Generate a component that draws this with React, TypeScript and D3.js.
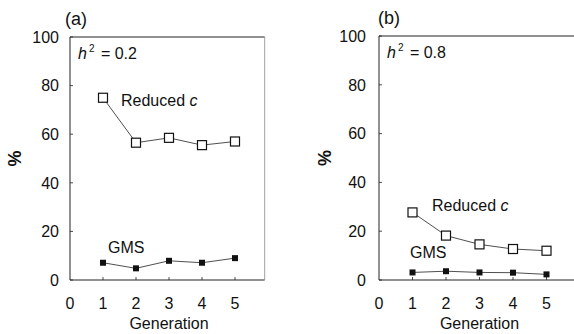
import React from "react";
import * as d3 from "d3";

const generations = [1, 2, 3, 4, 5];
const xTicks = [0, 1, 2, 3, 4, 5];
const yTicks = [0, 20, 40, 60, 80, 100];
const reducedA = [75, 56.5, 58.5, 55.5, 57];
const gmsA = [7.1, 4.8, 7.9, 7.1, 9.0];
const reducedB = [27.7, 18.2, 14.6, 12.7, 12.0];
const gmsB = [3.1, 3.6, 3.1, 3.0, 2.3];

const FONT = "'Liberation Sans', Arial, Helvetica, sans-serif";

type PanelProps = {
  x0: number;
  x6: number;
  yTop: number;
  yBot: number;
  label: string;
  labelOff: number;
  h2: string;
  reduced: number[];
  gms: number[];
  yLabelOff: number;
  pctX: number;
  rightBorder: boolean;
  redLabel: [number, number];
  gmsLabel: [number, number];
};

function Panel(p: PanelProps) {
  const x = d3.scaleLinear().domain([0, 6]).range([p.x0, p.x6]);
  const y = d3.scaleLinear().domain([0, 100]).range([p.yBot, p.yTop]);
  const line = d3
    .line<number>()
    .x((_, i) => x(generations[i]))
    .y((d) => y(d));
  const right = Math.min(x(5.9), 574);
  return (
    <g fontFamily={FONT} fill="#111">
      {/* frame */}
      <line x1={x(0)} x2={x(0)} y1={y(100)} y2={y(0)} stroke="#222" strokeWidth={1} />
      <line x1={x(0)} x2={right} y1={y(0)} y2={y(0)} stroke="#222" strokeWidth={1} />
      <line x1={x(0)} x2={right} y1={y(100)} y2={y(100)} stroke="#222" strokeWidth={1} />
      {p.rightBorder && (
        <line x1={right} x2={right} y1={y(100)} y2={y(0)} stroke="#888" strokeWidth={0.8} />
      )}
      {yTicks.map((t) => (
        <g key={t}>
          <line x1={x(0)} x2={x(0) + 3} y1={y(t)} y2={y(t)} stroke="#222" strokeWidth={0.8} />
          <text x={x(0) - p.yLabelOff} y={y(t)} dy="0.36em" textAnchor="end" fontSize={16}>
            {t}
          </text>
        </g>
      ))}
      {xTicks.map((t) => (
        <g key={t}>
          {t > 0 && (
            <line x1={x(t)} x2={x(t)} y1={y(0)} y2={y(0) - 3} stroke="#222" strokeWidth={0.8} />
          )}
          <text x={x(t)} y={y(0) + 29} textAnchor="middle" fontSize={16}>
            {t}
          </text>
        </g>
      ))}
      <text x={(x(0) + x(6)) / 2} y={y(0) + 49} textAnchor="middle" fontSize={16}>
        Generation
      </text>
      <text
        transform={`translate(${p.pctX},${(y(0) + y(100)) / 2}) rotate(-90)`}
        textAnchor="middle"
        dy="0.35em"
        fontSize={18}
        fontWeight="bold"
      >
        %
      </text>
      <text x={x(0) + p.labelOff} y={y(100) - 12} fontSize={18}>
        {p.label}
      </text>
      <text x={x(0) + 8} y={y(100) + 22} fontSize={16}>
        <tspan fontStyle="italic">h</tspan>
        <tspan fontSize={10} dx={2} dy={-7}>2</tspan>
        <tspan dx={2} dy={7}> = {p.h2}</tspan>
      </text>
      <path d={line(p.reduced) || ""} fill="none" stroke="#222" strokeWidth={0.8} />
      <path d={line(p.gms) || ""} fill="none" stroke="#222" strokeWidth={0.8} />
      {p.reduced.map((v, i) => (
        <rect
          key={"r" + i}
          x={x(generations[i]) - 4.5}
          y={y(v) - 4.5}
          width={9}
          height={9}
          fill="#fff"
          stroke="#111"
          strokeWidth={1.2}
        />
      ))}
      {p.gms.map((v, i) => (
        <rect
          key={"g" + i}
          x={x(generations[i]) - 3}
          y={y(v) - 3}
          width={6}
          height={6}
          fill="#111"
        />
      ))}
      <text x={p.redLabel[0]} y={p.redLabel[1]} dy="0.35em" fontSize={16}>
        Reduced <tspan fontStyle="italic">c</tspan>
      </text>
      <text x={p.gmsLabel[0]} y={p.gmsLabel[1]} dy="0.35em" fontSize={16}>
        GMS
      </text>
    </g>
  );
}

export default function App() {
  return (
    <svg
      width={574}
      height={334}
      style={{ position: "absolute", left: 0, top: 0, background: "#fff" }}
    >
      <Panel
        x0={70}
        x6={268}
        yTop={37}
        yBot={280}
        label="(a)"
        labelOff={-5}
        h2="0.2"
        reduced={reducedA}
        gms={gmsA}
        yLabelOff={11}
        pctX={15}
        rightBorder={true}
        redLabel={[121, 100]}
        gmsLabel={[108, 247]}
      />
      <Panel
        x0={379}
        x6={580}
        yTop={36}
        yBot={280}
        label="(b)"
        labelOff={-1}
        h2="0.8"
        reduced={reducedB}
        gms={gmsB}
        yLabelOff={13}
        pctX={325}
        rightBorder={false}
        redLabel={[432, 205]}
        gmsLabel={[410, 252]}
      />
    </svg>
  );
}
